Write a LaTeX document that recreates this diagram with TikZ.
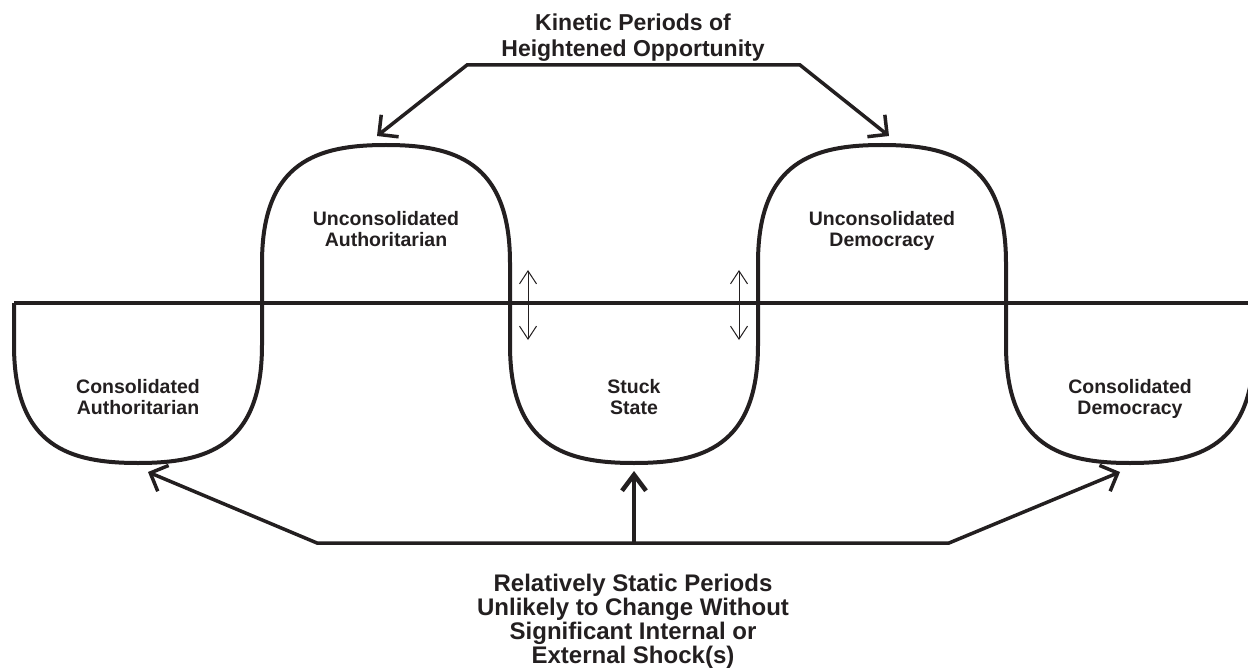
\documentclass[tikz,border=0pt]{standalone}
\usepackage{fontspec}
\setmainfont{Liberation Sans}
\usetikzlibrary{arrows.meta}
\definecolor{ink}{RGB}{35,31,32}
\tikzset{
  wave/.style={draw=ink, line width=4pt, line join=round},
  axis/.style={draw=ink, line width=3.5pt},
  bracket/.style={draw=ink, line width=3.5pt, line join=miter},
  bigtip/.tip={Straight Barb[length=14pt, width=28pt, line width=3.5pt]},
  midtip/.tip={Straight Barb[length=16pt, width=24pt, line width=4.5pt]},
  smalltip/.tip={Straight Barb[length=13pt, width=17pt, line width=1pt]},
  thin2/.style={draw=ink, line width=1pt},
  title/.style={text=ink, font=\bfseries\fontsize{23}{26}\selectfont, align=center, inner sep=0pt, anchor=north},
  label/.style={text=ink, font=\bfseries\fontsize{19.5}{21.5}\selectfont, align=center, inner sep=0pt, anchor=north},
}
\begin{document}
\begin{tikzpicture}[x=1pt, y=-1pt]
\useasboundingbox (0,0) rectangle (1248,671);
\fill[white] (0,0) rectangle (1248,671);
\begin{scope}
\clip (0,0) rectangle (1248,671);
% horizontal axis
\coordinate (axL) at (14,303);
\coordinate (axR) at (1248,303);
\draw[axis] (axL) -- (axR);
% wave
\draw[wave] (14,303) -- (14,345)
  .. controls (14,447) and (70,463) .. (138,463)
  .. controls (206,463) and (262,447) .. (262,345) -- (262,263)
  .. controls (262,161) and (318,145) .. (386,145)
  .. controls (454,145) and (510,161) .. (510,263) -- (510,345)
  .. controls (510,447) and (566,463) .. (634,463)
  .. controls (702,463) and (758,447) .. (758,345) -- (758,263)
  .. controls (758,161) and (814,145) .. (882,145)
  .. controls (950,145) and (1006,161) .. (1006,263) -- (1006,345)
  .. controls (1006,447) and (1062,463) .. (1130,463)
  .. controls (1198,463) and (1254,447) .. (1254,345) -- (1254,303);
\end{scope}
% labels
\node[title] (kin) at (633,14) {Kinetic Periods of\\Heightened Opportunity};
\node[label] (ua) at (386,211) {Unconsolidated\\Authoritarian};
\node[label] (ud) at (882,211) {Unconsolidated\\Democracy};
\node[label] (ca) at (138,379) {Consolidated\\Authoritarian};
\node[label] (ss) at (634,379) {Stuck\\State};
\node[label] (cd) at (1130,379) {Consolidated\\Democracy};
\node[title, font=\bfseries\fontsize{24}{24}\selectfont] (rs) at (633,574) {Relatively Static Periods\\Unlikely to Change Without\\Significant Internal or\\External Shock(s)};
% top bracket
\coordinate (tipUA) at (377,136);
\coordinate (tcL) at (467,65);
\coordinate (tcR) at (800,65);
\coordinate (tipUD) at (889,136);
\draw[bracket, bigtip-bigtip] (tipUA) -- (tcL) -- (tcR) -- (tipUD);
% bottom bracket
\coordinate (tipCA) at (148,472);
\coordinate (bcL) at (317,543);
\coordinate (bcM) at (634,543);
\coordinate (bcR) at (949,543);
\coordinate (tipCD) at (1120,472);
\coordinate (tipSS) at (634,471);
\draw[bracket, bigtip-bigtip] (tipCA) -- (bcL) -- (bcR) -- (tipCD);
\draw[draw=ink, line width=4.5pt, -midtip] (bcM) -- (tipSS);
% small double arrows
\coordinate (s1t) at (528,270);
\coordinate (s1b) at (528,340);
\coordinate (s2t) at (739,270);
\coordinate (s2b) at (739,340);
\draw[thin2, smalltip-smalltip] (s1t) -- (s1b);
\draw[thin2, smalltip-smalltip] (s2t) -- (s2b);
\end{tikzpicture}
\end{document}
